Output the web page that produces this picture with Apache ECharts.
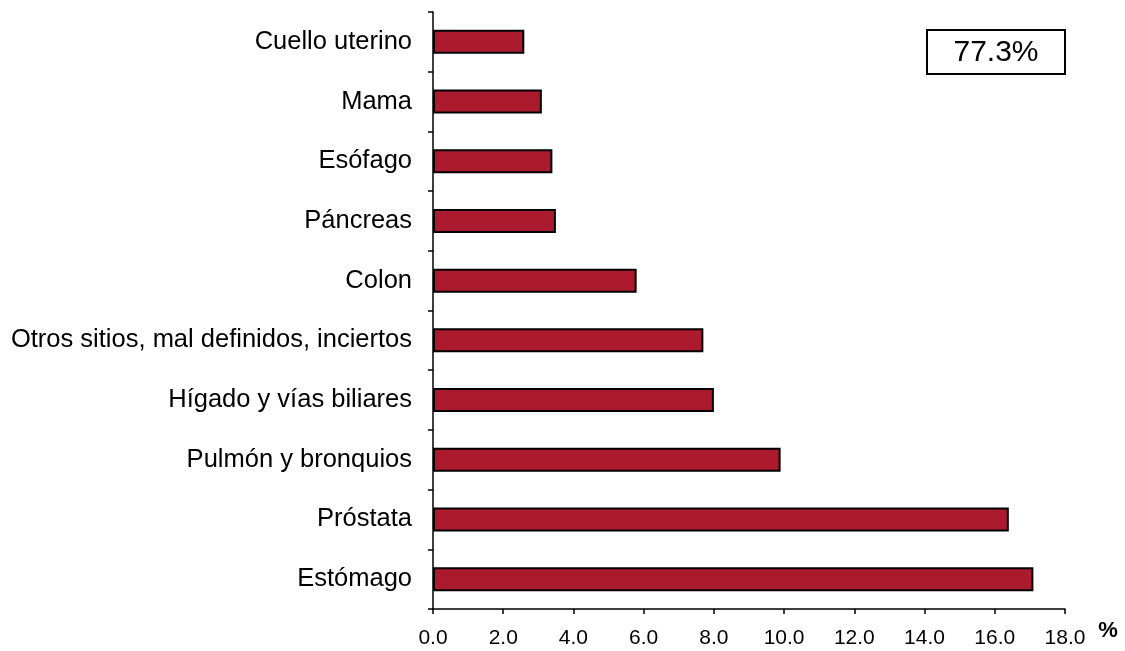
<!DOCTYPE html>
<html>
<head>
<meta charset="utf-8">
<script src="https://cdn.jsdelivr.net/npm/echarts@6/dist/echarts.min.js"></script>
<style>html,body{margin:0;padding:0;background:#fff}#c{width:1125px;height:651px}</style>
</head>
<body>
<div id="c"></div>
<script>
const categories = ["Cuello uterino","Mama","Esófago","Páncreas","Colon","Otros sitios, mal definidos, inciertos","Hígado y vías biliares","Pulmón y bronquios","Próstata","Estómago"];
const values = [2.6, 3.1, 3.4, 3.5, 5.8, 7.7, 8.0, 9.9, 16.4, 17.1];
const xTicks = [0, 2, 4, 6, 8, 10, 12, 14, 16, 18];
const totalLabel = "77.3%";
const unitLabel = "%";

const chart = echarts.init(document.getElementById('c'));
const font = 'Liberation Sans, Arial, sans-serif';
chart.setOption({
  animation: false,
  grid: {left: 433, right: 60, top: 12, bottom: 42, containLabel: false},
  xAxis: {
    type: 'value', min: xTicks[0], max: xTicks[xTicks.length-1], interval: 2,
    axisLine: {show: true, lineStyle: {color: '#000', width: 1.5}},
    axisTick: {show: true, length: 5, lineStyle: {color: '#000', width: 1.5}},
    splitLine: {show: false},
    axisLabel: {color: '#000', fontSize: 21, fontFamily: font, margin: 19, formatter: v => v.toFixed(1)}
  },
  yAxis: {
    type: 'category', data: categories, inverse: true,
    axisLine: {show: true, lineStyle: {color: '#000', width: 1.5}},
    axisTick: {show: true, length: 5, lineStyle: {color: '#000', width: 1.5}},
    axisLabel: {color: '#000', fontSize: 25.5, fontFamily: font, margin: 21}
  },
  series: [{
    type: 'bar', data: values, barWidth: 24,
    itemStyle: {color: '#AC1A2E', borderColor: '#000', borderWidth: 2}
  }],
  graphic: [
    {type: 'rect', shape: {x: 927, y: 30, width: 138, height: 44}, style: {fill: '#fff', stroke: '#000', lineWidth: 2}},
    {type: 'text', x: 996, y: 53, style: {text: totalLabel, fontSize: 30, fontFamily: font, fill: '#000', textAlign: 'center', textVerticalAlign: 'middle'}},
    {type: 'text', x: 1108, y: 631, style: {text: unitLabel, fontSize: 22, fontWeight: 'bold', fontFamily: font, fill: '#000', textAlign: 'center', textVerticalAlign: 'middle'}}
  ]
});
</script>
</body>
</html>
